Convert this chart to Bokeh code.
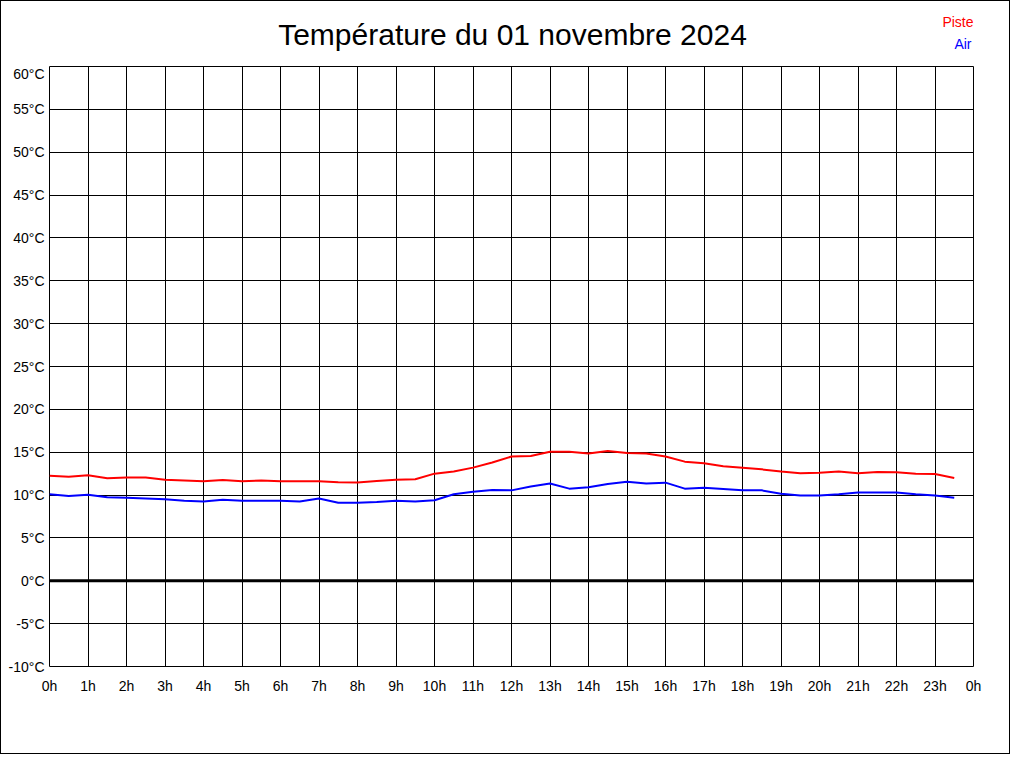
from bokeh.plotting import figure
from bokeh.models import FixedTicker, Span, ColumnDataSource
from bokeh.layouts import column
from bokeh.core.properties import value
from bokeh.embed import file_html
from bokeh.resources import INLINE

# ---- data ----
hours = [0.0, 0.5, 1.0, 1.5, 2.0, 2.5, 3.0, 3.5, 4.0, 4.5, 5.0, 5.5,
         6.0, 6.5, 7.0, 7.5, 8.0, 8.5, 9.0, 9.5, 10.0, 10.5, 11.0, 11.5,
         12.0, 12.5, 13.0, 13.5, 14.0, 14.5, 15.0, 15.5, 16.0, 16.5, 17.0, 17.5,
         18.0, 18.5, 19.0, 19.5, 20.0, 20.5, 21.0, 21.5, 22.0, 22.5, 23.0, 23.5]
piste = [12.25, 12.13, 12.3, 11.95, 12.05, 12.05, 11.8, 11.7, 11.6, 11.75, 11.6, 11.7,
         11.6, 11.6, 11.6, 11.5, 11.47, 11.65, 11.8, 11.85, 12.5, 12.75, 13.2, 13.8,
         14.5, 14.55, 15.05, 15.05, 14.85, 15.15, 14.9, 14.85, 14.5, 13.9, 13.7, 13.35,
         13.2, 13.0, 12.75, 12.55, 12.6, 12.75, 12.56, 12.7, 12.65, 12.5, 12.45, 12.0]
air = [10.1, 9.9, 10.05, 9.75, 9.7, 9.6, 9.5, 9.35, 9.25, 9.45, 9.35, 9.35,
       9.35, 9.25, 9.6, 9.1, 9.1, 9.2, 9.35, 9.25, 9.4, 10.1, 10.4, 10.6,
       10.55, 11.0, 11.35, 10.75, 10.9, 11.3, 11.55, 11.35, 11.45, 10.75, 10.85, 10.7,
       10.55, 10.55, 10.15, 9.95, 9.95, 10.1, 10.3, 10.3, 10.3, 10.1, 9.95, 9.7]
x_ticks = list(range(0, 25))
x_tick_labels = [f"{h % 24}h" for h in x_ticks]
y_ticks = list(range(-10, 65, 5))
y_tick_labels = [f"{v}°C" for v in y_ticks]
title_text = "Température du 01 novembre 2024"
series_names = ["Piste", "Air"]
series_colors = ["#ff0000", "#0000ff"]

FONT = "Liberation Sans"
FRAME_W, FRAME_H = 924, 600
LEFT, RIGHT, TOP, BOTTOM = 48, 36, 64, 87

# ---- header (title + legend); its frame is aligned with the chart frame, pixel units ----
header = figure(frame_width=FRAME_W, frame_height=TOP, x_range=(0, FRAME_W), y_range=(TOP, 0),
                output_backend="svg", toolbar_location=None,
                min_border_left=LEFT, min_border_right=RIGHT, min_border_top=0, min_border_bottom=0,
                x_axis_type=None, y_axis_type=None, outline_line_color=None,
                background_fill_color="white", border_fill_color="white")
header.grid.visible = False
header.text(x=[FRAME_W / 2 + 1], y=[33], text=[title_text],
            text_align="center", text_baseline="alphabetic",
            text_font=value(FONT), text_font_size=value("30px"), text_color="black")
header.text(x=[FRAME_W], y=[20], text=[series_names[0]],
            text_align="right", text_baseline="alphabetic",
            text_font=value(FONT), text_font_size=value("14px"), text_color=series_colors[0])
header.text(x=[FRAME_W - 2], y=[42], text=[series_names[1]],
            text_align="right", text_baseline="alphabetic",
            text_font=value(FONT), text_font_size=value("14px"), text_color=series_colors[1])

# ---- main chart ----
p = figure(frame_width=FRAME_W, frame_height=FRAME_H, x_range=(0, 24), y_range=(-10, 60),
           output_backend="svg", toolbar_location=None,
           min_border_left=LEFT, min_border_right=RIGHT, min_border_top=1,
           min_border_bottom=BOTTOM,
           background_fill_color="white", border_fill_color="white")

p.outline_line_color = "black"
p.outline_line_width = 1
p.outline_line_alpha = 1

p.xaxis.ticker = FixedTicker(ticks=x_ticks)
p.xaxis.major_label_overrides = {t: l for t, l in zip(x_ticks, x_tick_labels)}
p.yaxis.ticker = FixedTicker(ticks=y_ticks)
p.yaxis.major_label_overrides = {t: l for t, l in zip(y_ticks, y_tick_labels)}

for ax in (p.xaxis, p.yaxis):
    ax.axis_line_color = None
    ax.major_tick_line_color = None
    ax.minor_tick_line_color = None
    ax.major_tick_out = 0
    ax.major_tick_in = 0
    ax.major_label_text_font = FONT
    ax.major_label_text_font_size = "14px"
    ax.major_label_text_color = "black"
p.xaxis.major_label_standoff = 11
p.yaxis.major_label_standoff = 5

for g in (p.xgrid, p.ygrid):
    g.grid_line_color = "black"
    g.grid_line_alpha = 1
    g.grid_line_width = 1

p.add_layout(Span(location=0, dimension="width", line_color="black", line_width=3))

src = ColumnDataSource(dict(h=hours, piste=piste, air=air))
p.line("h", "piste", source=src, line_color=series_colors[0], line_width=2)
p.line("h", "air", source=src, line_color=series_colors[1], line_width=2)

layout = column(header, p, spacing=0)
layout.styles = {"border": "1px solid black"}

open("out.html", "w").write(file_html(layout, INLINE))
